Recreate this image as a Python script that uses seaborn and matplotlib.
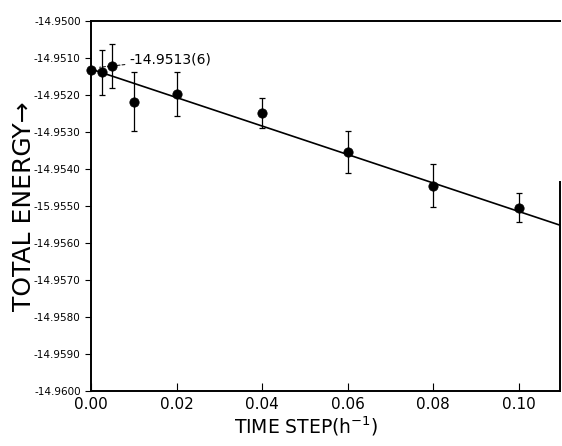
import matplotlib.pyplot as plt
import numpy as np
import pandas as pd
import seaborn as sns

# data
time_step = [0.0, 0.0025, 0.005, 0.01, 0.02, 0.04, 0.06, 0.08, 0.10]
energy = [-14.95132, -14.95139, -14.95121, -14.95218, -14.95198,
          -14.95249, -14.95354, -14.95445, -14.95504]
energy_err = [0.0, 0.0006, 0.0006, 0.0008, 0.0006, 0.0004, 0.00058, 0.00058, 0.0004]

fit_x = [0.0, 0.11]
fit_y = [-14.9513, -14.95553]

y_ticks = [-14.9500, -14.9510, -14.9520, -14.9530, -14.9540, -14.9550,
           -14.9560, -14.9570, -14.9580, -14.9590, -14.9600]
y_tick_labels = ["-14.9500", "-14.9510", "-14.9520", "-14.9530", "-14.9540",
                 "-15.9550", "-14.9560", "-14.9570", "-14.9580", "-14.9590",
                 "-14.9600"]
x_ticks = [0.0, 0.02, 0.04, 0.06, 0.08, 0.10]
x_tick_labels = ["0.00", "0.02", "0.04", "0.06", "0.08", "0.10"]

df = pd.DataFrame({"step": time_step, "energy": energy, "err": energy_err})
fit = pd.DataFrame({"step": fit_x, "energy": fit_y})

sns.set_style("ticks")
plt.rcParams["font.family"] = ["DejaVu Sans"]
plt.rcParams["text.color"] = "black"
plt.rcParams["axes.labelcolor"] = "black"
plt.rcParams["xtick.color"] = "black"
plt.rcParams["ytick.color"] = "black"

fig = plt.figure(figsize=(5.62, 4.46), dpi=100)
ax = fig.add_axes([0.162, 0.123, 0.834, 0.830])

sns.lineplot(data=fit, x="step", y="energy", color="black", linewidth=1.2, ax=ax)

err = df[df["err"] > 0]
ax.errorbar(err["step"], err["energy"], yerr=err["err"], fmt="none",
            ecolor="black", elinewidth=0.9, capsize=2.5, capthick=0.9)
sns.scatterplot(data=df, x="step", y="energy", color="black", s=45,
                edgecolor="black", zorder=5, ax=ax, clip_on=False)

ax.annotate("-14.9513(6)", xy=(time_step[0] + 0.002, energy[0] + 0.00007),
            xytext=(0.009, -14.95105), fontsize=10, va="center",
            arrowprops=dict(arrowstyle="-", linestyle=(0, (3, 2)),
                            color="black", linewidth=0.7, shrinkA=1, shrinkB=0))

ax.set_xlim(0, 0.1096)
ax.set_ylim(-14.9600, -14.9500)
ax.set_xticks(x_ticks)
ax.set_xticklabels(x_tick_labels, fontsize=11)
ax.set_yticks(y_ticks)
ax.set_yticklabels(y_tick_labels, fontsize=7.5)
ax.tick_params(axis="x", direction="in", length=6, width=0.8, pad=4)
ax.tick_params(axis="y", direction="out", length=4, width=0.8)

ax.set_xlabel("TIME STEP(h$^{-1}$)", fontsize=13.5)
ax.xaxis.set_label_coords(0.46, -0.062)
ax.set_ylabel("TOTAL ENERGY\u2192", fontsize=18)
ax.yaxis.set_label_coords(-0.118, 0.5)

for s in ax.spines.values():
    s.set_linewidth(1.4)
    s.set_color("black")
# right edge only drawn on the lower part in the original
ax.spines["right"].set_bounds(-14.9600, -14.95435)

plt.savefig("out.png", dpi=100)
